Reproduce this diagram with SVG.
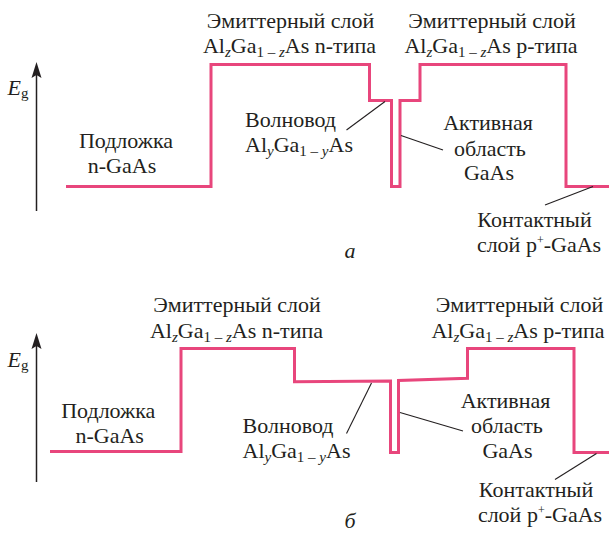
<svg xmlns="http://www.w3.org/2000/svg" width="609" height="533" viewBox="0 0 609 533">
<defs>
<style>
text{font-family:'Liberation Serif','Times New Roman',serif;font-size:22px;fill:#231f20;text-anchor:middle}
.s{font-size:15px}
.sup{font-size:12px}
.i{font-style:italic}
.band{fill:none;stroke:#e8467c;stroke-width:3;stroke-linejoin:miter}
.lead{stroke:#231f20;stroke-width:1.1;fill:none}
.axis{stroke:#231f20;stroke-width:1.5;fill:none}
</style>
</defs>

<!-- Part a -->
<g id="axis-a">
<line class="axis" x1="36.5" y1="211" x2="36.5" y2="70"/>
<path d="M36.5,62 L41.5,78 L36.5,75 L31.5,78 Z" fill="#231f20"/>
<text x="18" y="95"><tspan class="i">E</tspan><tspan class="s" dy="3">g</tspan></text>
</g>
<g id="band-a">
<path class="band" d="M66,186.5 H211 V64.5 H369.5 V100.5 H391.5 V186.5 H400 V100.5 H420 V64.5 H566 V186.5 H609"/>
</g>
<g id="connectors-a">
<line class="lead" x1="346.5" y1="130" x2="385" y2="101.5"/>
<line class="lead" x1="401" y1="135.5" x2="443" y2="150"/>
<line class="lead" x1="545" y1="205" x2="593" y2="186.5"/>
</g>
<g id="label-a-emitter-n">
<text x="290.5" y="28">Эмиттерный слой</text>
<text x="289.5" y="53">Al<tspan class="s i" dy="4">z</tspan><tspan dy="-4">Ga</tspan><tspan class="s" dy="4">1 – </tspan><tspan class="s i">z</tspan><tspan dy="-4">As n-типа</tspan></text>
</g>
<g id="label-a-emitter-p">
<text x="492" y="28">Эмиттерный слой</text>
<text x="491" y="53">Al<tspan class="s i" dy="4">z</tspan><tspan dy="-4">Ga</tspan><tspan class="s" dy="4">1 – </tspan><tspan class="s i">z</tspan><tspan dy="-4">As p-типа</tspan></text>
</g>
<g id="label-a-waveguide">
<text x="290.5" y="127">Волновод</text>
<text x="299" y="152">Al<tspan class="s i" dy="4">y</tspan><tspan dy="-4">Ga</tspan><tspan class="s" dy="4">1 – </tspan><tspan class="s i">y</tspan><tspan dy="-4">As</tspan></text>
</g>
<g id="label-a-substrate">
<text x="126" y="148">Подложка</text>
<text x="122" y="173">n-GaAs</text>
</g>
<g id="label-a-active">
<text x="488" y="130">Активная</text>
<text x="490" y="156">область</text>
<text x="489" y="180">GaAs</text>
</g>
<g id="label-a-contact">
<text x="534.5" y="227">Контактный</text>
<text x="539" y="251.5">слой p<tspan class="sup" dy="-8">+</tspan><tspan dy="8">-GaAs</tspan></text>
</g>
<text x="350" y="258" class="i">а</text>

<!-- Part b -->
<g id="axis-b">
<line class="axis" x1="36.5" y1="482" x2="36.5" y2="341"/>
<path d="M36.5,333 L41.5,349 L36.5,346 L31.5,349 Z" fill="#231f20"/>
<text x="18" y="366.5"><tspan class="i">E</tspan><tspan class="s" dy="3">g</tspan></text>
</g>
<g id="band-b">
<path class="band" d="M50,451.5 H181 V348.5 H294.5 V381.7 L390.5,381 V452.5 H398.5 V380.5 L467.5,378.3 V348.5 H574 V452.5 H609"/>
</g>
<g id="connectors-b">
<line class="lead" x1="346.5" y1="433.5" x2="371.5" y2="383"/>
<line class="lead" x1="400" y1="412.5" x2="463" y2="431"/>
<line class="lead" x1="555" y1="479.5" x2="596.5" y2="453.5"/>
</g>
<g id="label-b-emitter-n">
<text x="237" y="311.5">Эмиттерный слой</text>
<text x="236.5" y="338">Al<tspan class="s i" dy="4">z</tspan><tspan dy="-4">Ga</tspan><tspan class="s" dy="4">1 – </tspan><tspan class="s i">z</tspan><tspan dy="-4">As n-типа</tspan></text>
</g>
<g id="label-b-emitter-p">
<text x="519.5" y="311.5">Эмиттерный слой</text>
<text x="518" y="338">Al<tspan class="s i" dy="4">z</tspan><tspan dy="-4">Ga</tspan><tspan class="s" dy="4">1 – </tspan><tspan class="s i">z</tspan><tspan dy="-4">As p-типа</tspan></text>
</g>
<g id="label-b-waveguide">
<text x="288" y="433">Волновод</text>
<text x="296.5" y="458">Al<tspan class="s i" dy="4">y</tspan><tspan dy="-4">Ga</tspan><tspan class="s" dy="4">1 – </tspan><tspan class="s i">y</tspan><tspan dy="-4">As</tspan></text>
</g>
<g id="label-b-substrate">
<text x="108.3" y="418">Подложка</text>
<text x="109.7" y="443">n-GaAs</text>
</g>
<g id="label-b-active">
<text x="505.5" y="408">Активная</text>
<text x="507" y="433">область</text>
<text x="507.5" y="458">GaAs</text>
</g>
<g id="label-b-contact">
<text x="536" y="496.5">Контактный</text>
<text x="540" y="521.5">слой p<tspan class="sup" dy="-8">+</tspan><tspan dy="8">-GaAs</tspan></text>
</g>
<text x="350" y="528" class="i">б</text>
</svg>
